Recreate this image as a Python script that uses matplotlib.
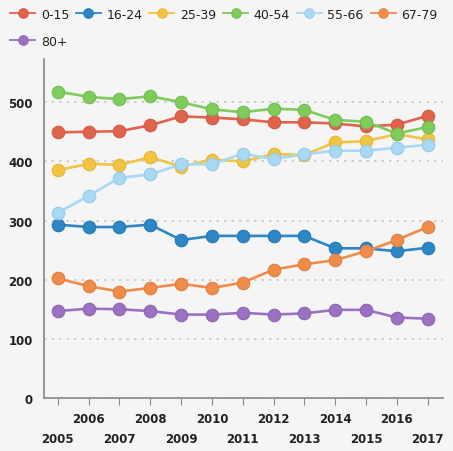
import matplotlib
matplotlib.use("Agg")
import matplotlib.pyplot as plt
from matplotlib.lines import Line2D

years = list(range(2005, 2018))
series_names = ["0-15", "16-24", "25-39", "40-54", "55-66", "67-79", "80+"]
v_0_15 = [449, 450, 451, 461, 476, 474, 471, 466, 466, 464, 459, 462, 477]
v_16_24 = [293, 289, 289, 293, 267, 274, 274, 274, 274, 253, 253, 248, 254]
v_25_39 = [385, 396, 394, 407, 391, 403, 400, 412, 411, 432, 434, 446, 437]
v_40_54 = [518, 509, 505, 510, 500, 488, 483, 489, 487, 470, 467, 447, 458]
v_55_66 = [313, 342, 372, 378, 395, 395, 413, 404, 412, 418, 418, 423, 428]
v_67_79 = [202, 189, 180, 186, 193, 186, 195, 217, 226, 233, 248, 267, 289]
v_80 = [147, 151, 150, 147, 141, 141, 144, 141, 143, 149, 149, 136, 134]
values = [v_0_15, v_16_24, v_25_39, v_40_54, v_55_66, v_67_79, v_80]
colors = ["#e0634d", "#2d87c5", "#f2c443", "#7fcb5b", "#a9d8f3", "#f08c4b", "#9b72c1"]
edges = ["#d3583f", "#2479b5", "#e6b636", "#72bd4f", "#97cbe8", "#e27e3d", "#8c64b2"]

bg = "#f5f5f5"
fig = plt.figure(figsize=(4.53, 4.52), dpi=100, facecolor=bg)
ax = fig.add_axes([44/453, 1-399/452, 399/453, (399-60)/452], facecolor=bg)

handles = []
for name, vals, c, e in zip(series_names, values, colors, edges):
    ax.plot(years, vals, color=c, lw=1.9, marker="o", markersize=9,
            markerfacecolor=c, markeredgecolor=e, markeredgewidth=0.8, label=name)
    handles.append(Line2D([], [], color=c, lw=1.3, marker="o", markersize=7,
                          markerfacecolor=c, markeredgecolor=e, markeredgewidth=0.6,
                          label=name))

ax.set_xlim(2004.55, 2017.5)
ax.set_ylim(0, 573)
ax.set_yticks([0, 100, 200, 300, 400, 500])
ax.yaxis.grid(True, linestyle=(0, (1.5, 3)), color="#c8c8c8", lw=1.2)
ax.set_axisbelow(True)
for s in ["top", "right"]:
    ax.spines[s].set_visible(False)
for s in ["left", "bottom"]:
    ax.spines[s].set_color("#888888")
    ax.spines[s].set_linewidth(1.2)
ax.tick_params(axis="y", length=0, labelsize=8.5, colors="#222222", pad=8)
ax.set_xticks(years)
ax.set_xticklabels([str(y) for y in years])
ax.tick_params(axis="x", length=5, color="#888888", labelsize=8.5, labelcolor="#222222")
for i, t in enumerate(ax.get_xticklabels()):
    if i % 2 == 0:
        t.set_y(-0.065)
    else:
        t.set_y(-0.005)
for t in ax.get_xticklabels() + ax.get_yticklabels():
    t.set_fontweight("bold")

# order so that rows read 0-15 ... 67-79, then 80+ on the second row
order = [0, 6, 1, 2, 3, 4, 5]
leg = fig.legend(handles=[handles[i] for i in order], loc="upper left",
                 bbox_to_anchor=(0.003, 1.0), ncol=6,
                 frameon=False, fontsize=9, handlelength=2.0, handletextpad=0.45,
                 columnspacing=0.55, borderaxespad=0.3, labelspacing=1.1)
for t in leg.get_texts():
    t.set_color("#222222")

fig.savefig("out.png", dpi=100, facecolor=bg)
